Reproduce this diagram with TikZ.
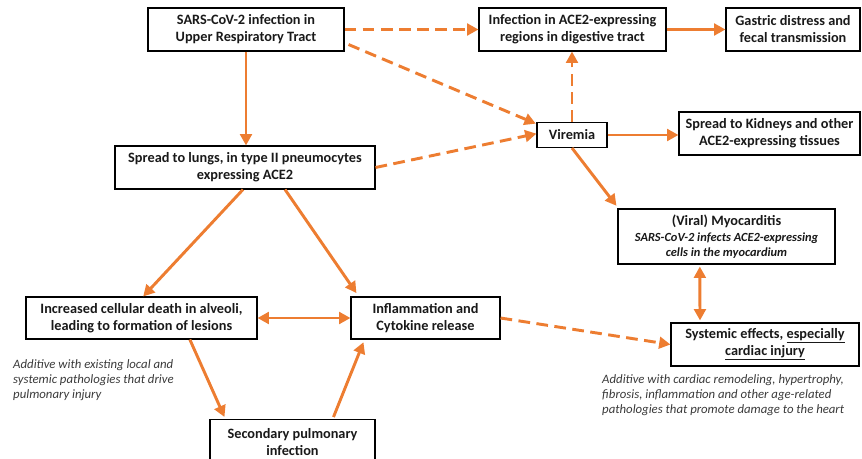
\documentclass[tikz,border=0pt]{standalone}
\usepackage{fontspec}
\setmainfont{Carlito}
\usepackage{xcolor}
\usetikzlibrary{arrows.meta, calc}
\definecolor{flowor}{HTML}{ED7D31}
\definecolor{notegray}{HTML}{3A3A3A}

\begin{document}
\begin{tikzpicture}[>={Triangle[length=3.4mm,width=3.5mm]},
  every node/.style={font=\bfseries\fontsize{12.2}{14.5}\selectfont, text=black!90},
  box/.style={draw, line width=0.9pt, align=center, inner sep=0pt},
  flow/.style={->, draw=flowor, line width=2.5pt},
  dflow/.style={flow, dash pattern=on 10pt off 5.5pt},
  note/.style={align=left, anchor=north west, inner sep=0pt, text=notegray, font=\itshape\fontsize{10.9}{12.9}\selectfont}]
  \useasboundingbox (0,0) rectangle (25.86,-13.77);
  % boxes
  \node[box, minimum width=5.88cm, minimum height=1.29cm] (sars) at (7.38,-0.885) {SARS-CoV-2 infection in\\Upper Respiratory Tract};
  \node[box, minimum width=7.8cm, minimum height=1.29cm] (lungs) at (7.35,-5.025) {Spread to lungs, in type II pneumocytes\\expressing ACE2};
  \node[box, minimum width=5.61cm, minimum height=1.29cm] (gi) at (17.175,-0.885) {Infection in ACE2-expressing\\regions in digestive tract};
  \node[box, minimum width=4.02cm, minimum height=1.29cm] (gastric) at (23.79,-0.885) {Gastric distress and\\fecal transmission};
  \node[box, minimum width=2.1cm, minimum height=0.75cm] (viremia) at (17.16,-4.05) {Viremia};
  \node[box, minimum width=5.43cm, minimum height=1.29cm] (kidney) at (23.085,-4.005) {Spread to Kidneys and other\\ACE2-expressing tissues};
  \node[box, minimum width=6.51cm, minimum height=1.65cm] (myo) at (21.795,-7.095) {(Viral) Myocarditis\\[-1pt]
    {\itshape\fontsize{10.6}{12.5}\selectfont SARS-CoV-2 infects ACE2-expressing}\\[-1.5pt]
    {\itshape\fontsize{10.6}{12.5}\selectfont cells in the myocardium}};
  \node[box, minimum width=5.64cm, minimum height=1.29cm] (systemic) at (22.95,-10.335) {Systemic effects, \underline{especially}\\\underline{cardiac injury}};
  \node[box, minimum width=6.93cm, minimum height=1.26cm] (death) at (4.245,-9.54) {Increased cellular death in alveoli,\\leading to formation of lesions};
  \node[box, minimum width=4.47cm, minimum height=1.26cm] (inflam) at (12.765,-9.54) {Inflammation and\\Cytokine release};
  \node[box, minimum width=4.95cm, minimum height=1.35cm, anchor=north] (second) at (8.775,-12.57) {Secondary pulmonary\\infection};
  % notes
  \node[note] (leftnote) at (0.39,-10.79) {Additive with existing local and\\systemic pathologies that drive\\pulmonary injury};
  \node[note] (rightnote) at (18.06,-11.22) {Additive with cardiac remodeling, hypertrophy,\\fibrosis, inflammation and other age-related\\pathologies that promote damage to the heart};
  % connectors
  \draw[dflow] (sars.east) -- (gi.west);
  \draw[dflow] ($(sars.south east)+(0.12,0.21)$) -- ($(viremia.west)+(-0.02,0.34)$);
  \draw[flow] (sars.south) -- (sars.south |- lungs.north);
  \draw[dflow] (lungs.east) -- ($(viremia.west)+(0,0.04)$);
  \draw[dflow] (viremia.north) -- (viremia.north |- gi.south);
  \draw[flow] (gi.east) -- (gastric.west);
  \draw[flow] (viremia.east) -- (viremia.east -| kidney.west);
  \draw[flow] (viremia.south) -- ($(myo.north west)+(-0.03,0.08)$);
  \draw[flow] ($(lungs.south)+(-0.06,0)$) -- ($(death.north)+(0.05,0)$);
  \draw[flow] ($(lungs.south)+(1.2,0)$) -- ($(inflam.north west)+(0.18,0.1)$);
  \draw[flow, <->] (death.east) -- (inflam.west);
  \draw[flow] ($(death.south)+(1.45,0)$) -- ($(second.north west)+(0.45,0.06)$);
  \draw[flow] ($(second.north west)+(3.72,0.06)$) -- ($(inflam.south west)+(0.39,-0.08)$);
  \draw[dflow] (inflam.east) -- (systemic.west);
  \draw[flow, <->] ($(myo.south)+(-0.8,-0.06)$) -- ($(systemic.north)+(-1.95,0.06)$);
\end{tikzpicture}
\end{document}
